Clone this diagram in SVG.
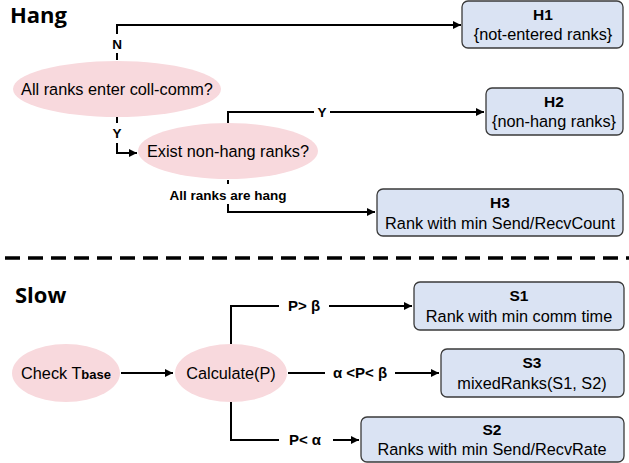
<svg xmlns="http://www.w3.org/2000/svg" width="629" height="463" viewBox="0 0 629 463">
  <defs>
    <marker id="arr" viewBox="0 0 10 10" refX="10" refY="5" markerWidth="5" markerHeight="4" markerUnits="strokeWidth" orient="auto">
      <path d="M0,0 L10,5 L0,10 z" fill="#000"/>
    </marker>
  </defs>
  <style>
    .title { font-family: "Open Sans", "Liberation Sans", sans-serif; font-weight: bold; font-size: 22px; fill: #000; }
    .ell { fill: #F8D9DD; stroke: none; }
    .box { fill: #DAE3F3; stroke: #3A3A3A; stroke-width: 1.3; }
    .t { font-family: "Liberation Sans", "Open Sans", sans-serif; font-size: 16.3px; fill: #000; text-anchor: middle; }
    .b { font-family: "Liberation Sans", "Open Sans", sans-serif; font-size: 15.5px; font-weight: bold; fill: #000; text-anchor: middle; }
    .lbl { font-family: "Liberation Sans", "Open Sans", sans-serif; font-size: 13.5px; font-weight: bold; fill: #000; text-anchor: middle; }
    .lbl2 { font-family: "Liberation Sans", "Open Sans", sans-serif; font-size: 15px; font-weight: bold; fill: #000; text-anchor: middle; }
    .ln { fill: none; stroke: #000; stroke-width: 2; }
  </style>

  <rect width="629" height="463" fill="#fff"/>

  <text class="title" x="10" y="23">Hang</text>
  <text class="title" x="15" y="303">Slow</text>

  <!-- separator between the two phases -->
  <line x1="5" y1="258" x2="629" y2="258" stroke="#000" stroke-width="3.5" stroke-dasharray="15 8"/>

  <g id="connectors">
    <!-- Hang branch -->
    <path class="ln" d="M117,60 V53 M117,34 V25 H461" marker-end="url(#arr)"/>
    <path class="ln" d="M117,117 V123 M117,143 V153 H137" marker-end="url(#arr)"/>
    <path class="ln" d="M228,123 V112 H314 M330,112 H484" marker-end="url(#arr)"/>
    <path class="ln" d="M228,180 V184 M228,204 V212 H375" marker-end="url(#arr)"/>
    <!-- Slow branch -->
    <path class="ln" d="M121,373 H173" marker-end="url(#arr)"/>
    <path class="ln" d="M231,344 V306 H279 M329,306 H412" marker-end="url(#arr)"/>
    <path class="ln" d="M288,373 H325 M395,373 H439" marker-end="url(#arr)"/>
    <path class="ln" d="M231,401 V440 H279 M333,440 H359" marker-end="url(#arr)"/>
    <text class="lbl" x="117" y="49">N</text>
    <text class="lbl" x="117" y="138">Y</text>
    <text class="lbl" x="322" y="117">Y</text>
    <text class="lbl" x="228" y="200">All ranks are hang</text>
    <text class="lbl2" x="304" y="311">P&gt; β</text>
    <text class="lbl2" x="360" y="378">α &lt;P&lt; β</text>
    <text class="lbl2" x="305" y="445">P&lt; α</text>
  </g>

  <g id="q-enter">
    <ellipse class="ell" cx="117" cy="89" rx="104" ry="28"/>
    <text class="t" x="117" y="95">All ranks enter coll-comm?</text>
  </g>
  <g id="q-nonhang">
    <ellipse class="ell" cx="228" cy="151" rx="90" ry="28"/>
    <text class="t" x="228" y="157">Exist non-hang ranks?</text>
  </g>
  <g id="h1">
    <rect class="box" x="462" y="1" width="161" height="47" rx="6"/>
    <text class="b" x="543" y="20">H1</text>
    <text class="t" x="543" y="40">{not-entered ranks}</text>
  </g>
  <g id="h2">
    <rect class="box" x="486" y="88" width="137" height="47" rx="6"/>
    <text class="b" x="554" y="107">H2</text>
    <text class="t" x="554" y="127">{non-hang ranks}</text>
  </g>
  <g id="h3">
    <rect class="box" x="377" y="189" width="246" height="47" rx="6"/>
    <text class="b" x="500" y="208">H3</text>
    <text class="t" x="500" y="229">Rank with min Send/RecvCount</text>
  </g>

  <g id="check">
    <ellipse class="ell" cx="66" cy="373" rx="54" ry="29"/>
    <text class="t" x="66" y="379">Check T<tspan font-size="13" font-weight="bold">base</tspan></text>
  </g>
  <g id="calc">
    <ellipse class="ell" cx="231" cy="373" rx="56" ry="29"/>
    <text class="t" x="231" y="379">Calculate(P)</text>
  </g>
  <g id="s1">
    <rect class="box" x="414" y="282" width="210" height="48" rx="6"/>
    <text class="b" x="519" y="301">S1</text>
    <text class="t" x="519" y="322">Rank with min comm time</text>
  </g>
  <g id="s3">
    <rect class="box" x="441" y="349" width="183" height="48" rx="6"/>
    <text class="b" x="532" y="368">S3</text>
    <text class="t" x="532" y="389">mixedRanks(S1, S2)</text>
  </g>
  <g id="s2">
    <rect class="box" x="361" y="417" width="263" height="45" rx="6"/>
    <text class="b" x="492" y="435">S2</text>
    <text class="t" x="492" y="455">Ranks with min Send/RecvRate</text>
  </g>
</svg>
